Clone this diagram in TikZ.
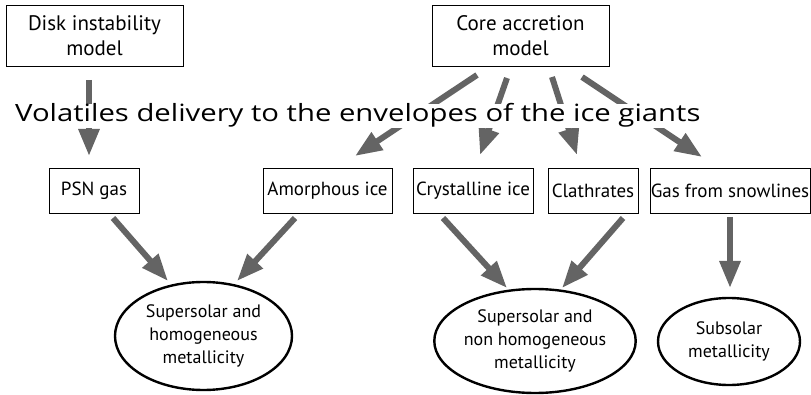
\documentclass[tikz,border=0pt]{standalone}
\usepackage{fontspec}
\usepackage{graphicx}
\setmainfont{PT Sans}
\newfontfamily\titlefont{Open Sans}
\usetikzlibrary{arrows.meta,shapes.geometric}
\definecolor{arr}{RGB}{100,100,100}
\begin{document}
\begin{tikzpicture}[x=1pt,y=-1pt,
  box/.style={draw,line width=0.9pt,inner sep=0pt,align=center,font=\fontsize{19}{26}\selectfont},
  topbox/.style={box,minimum width=177pt,minimum height=61pt,font=\fontsize{21}{25}\selectfont},
  oval/.style={draw,ellipse,line width=2.4pt,inner sep=0pt,align=center,font=\fontsize{18}{23}\selectfont},
  bigarrow/.style={draw=arr,line width=6pt,-{Triangle[width=20pt,length=27pt]}},
  ttl/.style={fill=white,inner xsep=0pt,inner ysep=0pt,font=\titlefont\fontsize{23.8}{30}\selectfont}]
\useasboundingbox (0,0) rectangle (811,395);
% coordinates for arrow ends
\coordinate (d1) at (89,80);   \coordinate (d2) at (89,156);
\coordinate (c1a) at (477,75); \coordinate (c1b) at (355,156);
\coordinate (c2a) at (507,78); \coordinate (c2b) at (480,155);
\coordinate (c3a) at (552,77); \coordinate (c3b) at (577,155);
\coordinate (c4a) at (582,77); \coordinate (c4b) at (702,157);
\coordinate (p1) at (113,218); \coordinate (p2) at (168,281);
\coordinate (a1) at (295,218); \coordinate (a2) at (237,281);
\coordinate (k1) at (443,218); \coordinate (k2) at (507,288);
\coordinate (l1) at (623,218); \coordinate (l2) at (562,288);
\coordinate (g1) at (730,217); \coordinate (g2) at (730,288);
% arrows
\draw[bigarrow] (d1) -- (d2);
\draw[bigarrow] (c1a) -- (c1b);
\draw[bigarrow] (c2a) -- (c2b);
\draw[bigarrow] (c3a) -- (c3b);
\draw[bigarrow] (c4a) -- (c4b);
\draw[bigarrow] (p1) -- (p2);
\draw[bigarrow] (a1) -- (a2);
\draw[bigarrow] (k1) -- (k2);
\draw[bigarrow] (l1) -- (l2);
\draw[bigarrow] (g1) -- (g2);
% title
\node[ttl,anchor=base west] (title) at (15,122) {\scalebox{1.23}[1]{Volatiles delivery to the envelopes of the ice giants}};
% boxes
\node[topbox] (disk) at (94.5,35.5) {Disk instability\\model};
\node[topbox] (core) at (520.5,35.5) {Core accretion\\model};
\node[box,minimum width=90pt,minimum height=45pt] (psn) at (94,190.5) {PSN gas};
\node[box,minimum width=129pt,minimum height=45pt] (amor) at (327.5,190.5) {Amorphous ice};
\node[box,minimum width=120pt,minimum height=45pt] (cryst) at (473,190.5) {Crystalline ice};
\node[box,minimum width=90pt,minimum height=45pt] (clath) at (593,190.5) {Clathrates};
\node[box,minimum width=160pt,minimum height=45pt] (gas) at (730,190.5) {Gas from snowlines};
% ellipses
\node[oval,minimum width=177pt,minimum height=108pt] (e1) at (203.5,336) {Supersolar and\\homogeneous\\metallicity};
\node[oval,minimum width=176pt,minimum height=104pt] (e2) at (535,341) {Supersolar and\\non homogeneous\\metallicity};
\node[oval,minimum width=142pt,minimum height=87pt] (e3) at (729,341.5) {Subsolar\\metallicity};
\end{tikzpicture}
\end{document}
